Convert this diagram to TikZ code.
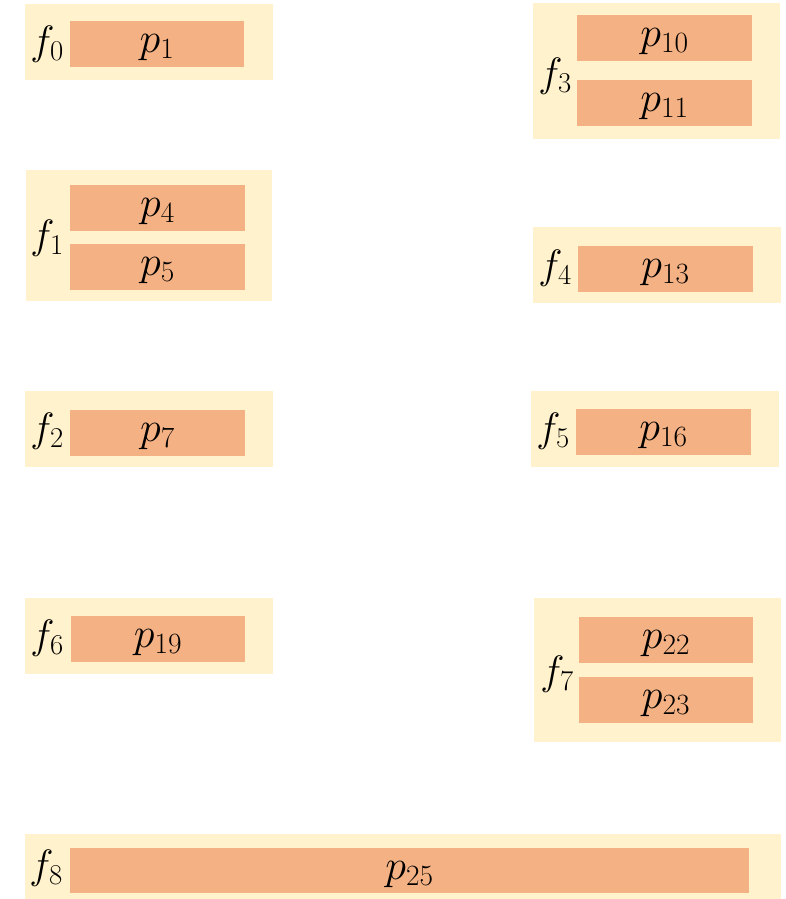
\RequirePackage{fix-cm}
\documentclass[tikz,border=0pt]{standalone}
\definecolor{outerfill}{HTML}{FFF2CC}
\definecolor{innerfill}{HTML}{F4B183}
\begin{document}
\begin{tikzpicture}[x=1pt,y=-1pt,
  fbox/.style={fill=outerfill,draw=none,inner sep=0pt,outer sep=0pt},
  pbox/.style={fill=innerfill,draw=none,inner sep=0pt,outer sep=0pt,minimum width=175pt,minimum height=46pt,text height=26pt,text depth=9pt,font=\fontsize{42}{50}\selectfont},
  flab/.style={inner sep=0pt,font=\fontsize{41}{49}\selectfont}]
\useasboundingbox (0,0) rectangle (786,899);
% f0
\node[fbox,minimum width=248pt,minimum height=76pt] (f0) at (149,42) {};
\node[pbox,minimum width=174pt] (p1) at (157,44) {$p_{1}$};
\node[flab] (lf0) at (47,44) {$f_{0}$};
% f1
\node[fbox,minimum width=246pt,minimum height=131pt] (f1) at (149,235.5) {};
\node[pbox] (p4) at (157.5,208) {$p_{4}$};
\node[pbox] (p5) at (157.5,267) {$p_{5}$};
\node[flab] (lf1) at (47,238) {$f_{1}$};
% f2
\node[fbox,minimum width=248pt,minimum height=76pt] (f2) at (149,429) {};
\node[pbox] (p7) at (157.5,433) {$p_{7}$};
\node[flab] (lf2) at (47,431) {$f_{2}$};
% f6
\node[fbox,minimum width=248pt,minimum height=76pt] (f6) at (149,636) {};
\node[pbox,minimum width=174pt] (p19) at (158,639) {$p_{19}$};
\node[flab] (lf6) at (47,638) {$f_{6}$};
% f8
\node[fbox,minimum width=756pt,minimum height=65pt] (f8) at (403,866.5) {};
\node[pbox,minimum width=679pt,minimum height=45pt] (p25) at (409.5,870.5) {$p_{25}$};
\node[flab] (lf8) at (46,868) {$f_{8}$};
% f3
\node[fbox,minimum width=247pt,minimum height=136pt] (f3) at (656.5,71) {};
\node[pbox] (p10) at (664.5,38) {$p_{10}$};
\node[pbox] (p11) at (664.5,103) {$p_{11}$};
\node[flab] (lf3) at (555,76) {$f_{3}$};
% f4
\node[fbox,minimum width=248pt,minimum height=76pt] (f4) at (657,265) {};
\node[pbox] (p13) at (665.5,269) {$p_{13}$};
\node[flab] (lf4) at (555,268) {$f_{4}$};
% f5
\node[fbox,minimum width=248pt,minimum height=76pt] (f5) at (655,429) {};
\node[pbox] (p16) at (663.5,432) {$p_{16}$};
\node[flab] (lf5) at (553,431) {$f_{5}$};
% f7
\node[fbox,minimum width=247pt,minimum height=144pt] (f7) at (657.5,670) {};
\node[pbox,minimum width=174pt] (p22) at (666,640) {$p_{22}$};
\node[pbox,minimum width=174pt] (p23) at (666,700) {$p_{23}$};
\node[flab] (lf7) at (557,674) {$f_{7}$};
\end{tikzpicture}
\end{document}
